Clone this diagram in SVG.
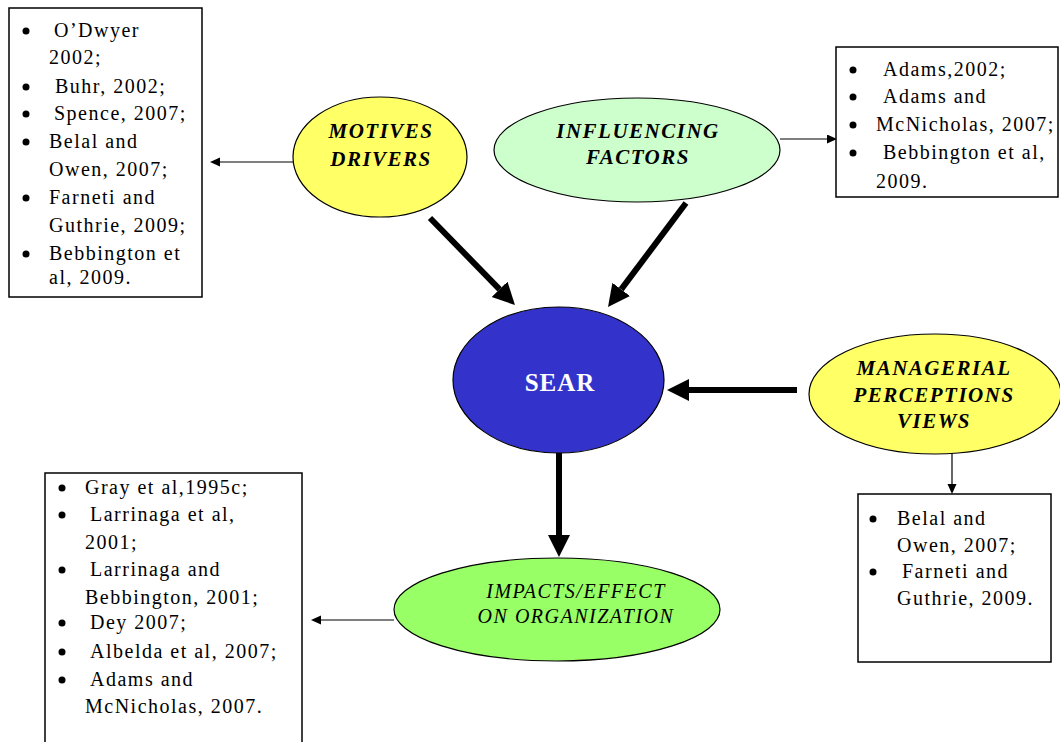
<svg xmlns="http://www.w3.org/2000/svg" width="1060" height="742" viewBox="0 0 1060 742">
<defs>
<style>
.box{fill:#fff;stroke:#000;stroke-width:1.5}
.ell{stroke:#000;stroke-width:1.2}
.ref{font-family:'Liberation Serif','Times New Roman',Times,serif;font-size:20px;letter-spacing:1.5px;fill:#000}
.lbl{font-family:'Liberation Serif','Times New Roman',Times,serif;font-size:21px;font-weight:bold;font-style:italic;letter-spacing:1.5px;fill:#000;text-anchor:middle}
.lbl2{font-family:'Liberation Serif','Times New Roman',Times,serif;font-size:20px;font-style:italic;letter-spacing:1.5px;fill:#000;text-anchor:middle}
.sear{font-family:'Liberation Serif','Times New Roman',Times,serif;font-size:25px;font-weight:bold;letter-spacing:1px;fill:#fff;text-anchor:middle}
.thick{stroke:#000;stroke-width:6;fill:none}
.thin{stroke:#000;stroke-width:1.2;fill:none}
.bul{fill:#000}
</style>
<marker id="bigHead" markerUnits="userSpaceOnUse" markerWidth="24" markerHeight="24" refX="0" refY="11" orient="auto">
<path d="M0,0 L22,11 L0,22 Z" fill="#000"/>
</marker>
<marker id="smallHead" markerUnits="userSpaceOnUse" markerWidth="12" markerHeight="10" refX="0" refY="4.5" orient="auto">
<path d="M0,0 L10,4.5 L0,9 Z" fill="#000"/>
</marker>
</defs>
<rect width="1060" height="742" fill="#fff"/>

<g id="connectors">
<line class="thin" x1="293" y1="162" x2="220" y2="162" marker-end="url(#smallHead)"/>
<line class="thin" x1="780" y1="139" x2="827" y2="139" marker-end="url(#smallHead)"/>
<line class="thin" x1="952" y1="453" x2="952" y2="484" marker-end="url(#smallHead)"/>
<line class="thin" x1="394" y1="620" x2="321" y2="620" marker-end="url(#smallHead)"/>
<line class="thick" x1="430" y1="218" x2="499.6" y2="289.3" marker-end="url(#bigHead)"/>
<line class="thick" x1="686" y1="203" x2="621.2" y2="289.4" marker-end="url(#bigHead)"/>
<line class="thick" x1="797" y1="390" x2="689" y2="390" marker-end="url(#bigHead)"/>
<line class="thick" x1="559" y1="453" x2="559" y2="535" marker-end="url(#bigHead)"/>
</g>

<g id="motives">
<ellipse class="ell" cx="380" cy="157" rx="87" ry="60" fill="#FFFF66"/>
<text class="lbl" x="381" y="138">MOTIVES</text>
<text class="lbl" x="381" y="166">DRIVERS</text>
</g>

<g id="influencing">
<ellipse class="ell" cx="637" cy="150" rx="143" ry="52" fill="#CCFFCC"/>
<text class="lbl" x="638" y="138">INFLUENCING</text>
<text class="lbl" x="638" y="164">FACTORS</text>
</g>

<g id="sear">
<ellipse class="ell" cx="558.5" cy="380" rx="105.5" ry="73" fill="#3333CC"/>
<text class="sear" x="560" y="391">SEAR</text>
</g>

<g id="managerial">
<ellipse class="ell" cx="935" cy="394" rx="126" ry="60" fill="#FFFF66"/>
<text class="lbl" x="934" y="375">MANAGERIAL</text>
<text class="lbl" x="934" y="402">PERCEPTIONS</text>
<text class="lbl" x="934" y="428">VIEWS</text>
</g>

<g id="impacts">
<ellipse class="ell" cx="557" cy="609.5" rx="163" ry="51.5" fill="#99FF66"/>
<text class="lbl2" x="576" y="598">IMPACTS/EFFECT</text>
<text class="lbl2" x="576" y="623">ON ORGANIZATION</text>
</g>

<g id="box-motives">
<rect class="box" x="9" y="8" width="193" height="289"/>
<circle class="bul" cx="26" cy="31" r="3.5"/>
<circle class="bul" cx="26" cy="87" r="3.5"/>
<circle class="bul" cx="26" cy="114" r="3.5"/>
<circle class="bul" cx="26" cy="142" r="3.5"/>
<circle class="bul" cx="26" cy="198" r="3.5"/>
<circle class="bul" cx="26" cy="254" r="3.5"/>
<text class="ref" x="54" y="37">O’Dwyer</text>
<text class="ref" x="49" y="64">2002;</text>
<text class="ref" x="55" y="93">Buhr, 2002;</text>
<text class="ref" x="54" y="120">Spence, 2007;</text>
<text class="ref" x="49" y="148">Belal and</text>
<text class="ref" x="49" y="176">Owen, 2007;</text>
<text class="ref" x="49" y="204">Farneti and</text>
<text class="ref" x="49" y="232">Guthrie, 2009;</text>
<text class="ref" x="49" y="260">Bebbington et</text>
<text class="ref" x="49" y="284">al, 2009.</text>
</g>

<g id="box-influencing">
<rect class="box" x="836" y="47" width="222" height="150"/>
<circle class="bul" cx="853" cy="70" r="3.5"/>
<circle class="bul" cx="853" cy="97" r="3.5"/>
<circle class="bul" cx="853" cy="125" r="3.5"/>
<circle class="bul" cx="853" cy="153" r="3.5"/>
<text class="ref" x="883" y="76">Adams,2002;</text>
<text class="ref" x="883" y="103">Adams and</text>
<text class="ref" x="876" y="131">McNicholas, 2007;</text>
<text class="ref" x="883" y="159">Bebbington et al,</text>
<text class="ref" x="876" y="188">2009.</text>
</g>

<g id="box-impacts">
<rect class="box" x="45" y="473" width="257" height="280"/>
<circle class="bul" cx="62" cy="488" r="3.5"/>
<circle class="bul" cx="62" cy="515" r="3.5"/>
<circle class="bul" cx="62" cy="570" r="3.5"/>
<circle class="bul" cx="62" cy="623" r="3.5"/>
<circle class="bul" cx="62" cy="652" r="3.5"/>
<circle class="bul" cx="62" cy="680" r="3.5"/>
<text class="ref" x="85" y="494">Gray et al,1995c;</text>
<text class="ref" x="90" y="521">Larrinaga et al,</text>
<text class="ref" x="85" y="549">2001;</text>
<text class="ref" x="90" y="576">Larrinaga and</text>
<text class="ref" x="85" y="604">Bebbington, 2001;</text>
<text class="ref" x="90" y="629">Dey 2007;</text>
<text class="ref" x="90" y="658">Albelda et al, 2007;</text>
<text class="ref" x="90" y="686">Adams and</text>
<text class="ref" x="85" y="713">McNicholas, 2007.</text>
</g>

<g id="box-managerial">
<rect class="box" x="858" y="494" width="193" height="168"/>
<circle class="bul" cx="873" cy="519" r="3.5"/>
<circle class="bul" cx="873" cy="572" r="3.5"/>
<text class="ref" x="897" y="525">Belal and</text>
<text class="ref" x="897" y="552">Owen, 2007;</text>
<text class="ref" x="902" y="578">Farneti and</text>
<text class="ref" x="897" y="605">Guthrie, 2009.</text>
</g>
</svg>
